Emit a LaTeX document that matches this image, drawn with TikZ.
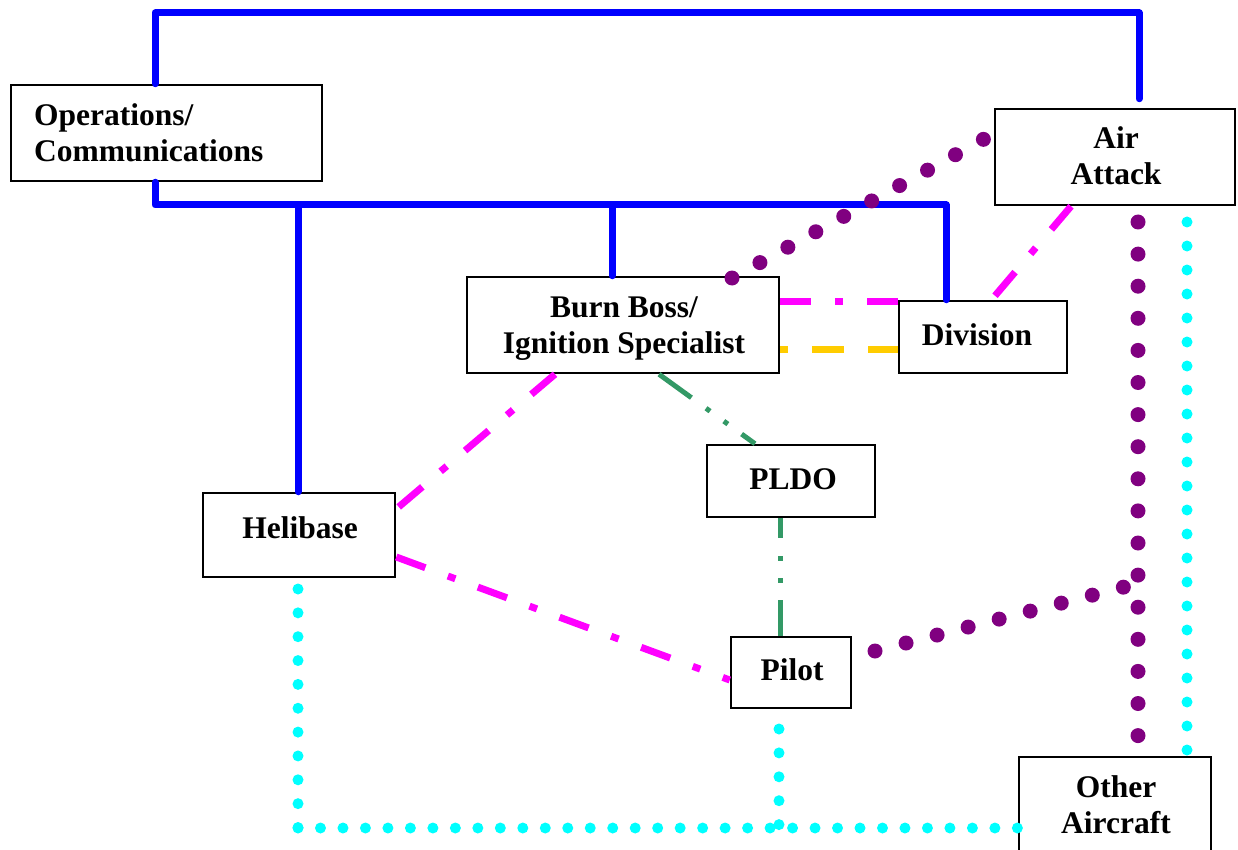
\documentclass[tikz,border=0pt]{standalone}
\usepackage{fontspec}
\setmainfont{Liberation Serif}
\definecolor{blu}{RGB}{0,0,255}
\definecolor{mag}{RGB}{255,0,255}
\definecolor{pur}{RGB}{128,0,128}
\definecolor{cya}{RGB}{0,255,255}
\definecolor{grn}{RGB}{51,153,102}
\definecolor{yel}{RGB}{255,204,0}
\begin{document}
\begin{tikzpicture}[x=1pt,y=-1pt,
  box/.style={draw=black,line width=2.5pt,fill=white,inner sep=0pt},
  lbl/.style={font=\fontsize{31.5}{36}\selectfont\bfseries,inner sep=0pt},
  blueln/.style={draw=blu,line width=7pt,line join=round,line cap=round},
  magln/.style={draw=mag,line width=7pt,dash pattern=on 31pt off 24pt on 8pt off 24pt},
  grnln/.style={draw=grn,line width=5pt,dash pattern=on 40pt off 18pt on 5pt off 17pt on 5pt off 17pt},
  yelln/.style={draw=yel,line width=7pt,dash pattern=on 32pt off 24pt,dash phase=24pt},
  purdots/.style={draw=pur,line width=15pt,line cap=round,dash pattern=on 0pt off #1},
  cyadots/.style={draw=cya,line width=11pt,line cap=round,dash pattern=on 0pt off #1}]
\useasboundingbox (0,0) rectangle (1238,850);

% boxes
\node[box,minimum width=311pt,minimum height=96pt] (ops) at (166.5,133) {};
\node[box,minimum width=240pt,minimum height=96pt] (air) at (1115,157) {};
\node[box,minimum width=312pt,minimum height=96pt] (bb) at (623,325) {};
\node[box,minimum width=168pt,minimum height=72pt] (div) at (983,337) {};
\node[box,minimum width=192pt,minimum height=84pt] (heli) at (299,535) {};
\node[box,minimum width=168pt,minimum height=72pt] (pldo) at (791,481) {};
\node[box,minimum width=120pt,minimum height=71pt] (pilot) at (791,672.5) {};
\node[box,minimum width=192pt,minimum height=120pt] (other) at (1115,817) {};

% blue solid connectors
\coordinate (j1) at (298,205);
\coordinate (j2) at (612,205);
\draw[blueln] ([xshift=-11.5pt]ops.north) |- (1139,13) -- ([xshift=24pt,yshift=9pt]air.north);
\draw[blueln] ([xshift=-11.5pt]ops.south) |- (946,205) -- ([xshift=-37pt]div.north);
\draw[blueln] (j1) -- (heli.north -| j1);
\draw[blueln] (j2) -- (bb.north -| j2);

% magenta dash-dot connectors
\draw[magln] (bb.east |- 0,301) -- (div.west |- 0,301);
\draw[magln] ([xshift=12pt,yshift=4pt]div.north) -- (air.south -| 1071,0);
\draw[magln] (bb.south -| 555,0) -- (heli.east |- 0,509);
\draw[magln] (heli.east |- 0,557) -- (pilot.west |- 0,680);

% yellow dashed
\draw[yelln] (bb.east |- 0,349) -- (div.west |- 0,349);

% green dash-dot-dot
\draw[grnln] (bb.south -| 659,0) -- (pldo.north -| 755,0);
\draw[grnln,dash phase=20pt] (pldo.south -| 780,0) -- (pilot.north -| 780,0);

% purple dotted
\coordinate (pbb) at (732,278);
\coordinate (pair) at (984,139);
\draw[purdots=31.9pt] (pbb) -- (pair);
\coordinate (pa1) at (1138,222);
\coordinate (pa2) at (1138,737);
\draw[purdots=32.1pt] (pa1) -- (pa2);
\coordinate (pp1) at (875,651);
\coordinate (pp2) at (1124,587);
\draw[purdots=32.05pt] (pp1) -- (pp2);

% cyan dotted
\coordinate (ca1) at (1187,222);
\coordinate (ca2) at (1187,752);
\draw[cyadots=24pt] (ca1) -- (ca2);
\coordinate (ch1) at (298,589);
\coordinate (chc) at (298,828);
\draw[cyadots=23.85pt] (ch1) -- (chc);
\coordinate (co) at (1019,828);
\draw[cyadots=22.48pt] (chc) -- (co);
\coordinate (cp1) at (779,729);
\coordinate (cp2) at (779,825);
\draw[cyadots=23.9pt] (cp1) -- (cp2);

% labels
\node[lbl,anchor=base west] (opsA) at (34,126) {Operations/};
\node[lbl,anchor=base west] (opsB) at (34,162) {Communications};
\node[lbl,anchor=base] (airA) at (1116,149) {Air};
\node[lbl,anchor=base] (airB) at (1116,185) {Attack};
\node[lbl,anchor=base] (bbA) at (624,317) {Burn Boss/};
\node[lbl,anchor=base] (bbB) at (624,353) {Ignition Specialist};
\node[lbl,anchor=base] (divT) at (977,345) {Division};
\node[lbl,anchor=base] (heliT) at (300,538) {Helibase};
\node[lbl,anchor=base] (pldoT) at (793,489) {PLDO};
\node[lbl,anchor=base] (pilotT) at (792,680) {Pilot};
\node[lbl,anchor=base] (othA) at (1116,797) {Other};
\node[lbl,anchor=base] (othB) at (1116,833) {Aircraft};
\end{tikzpicture}
\end{document}
